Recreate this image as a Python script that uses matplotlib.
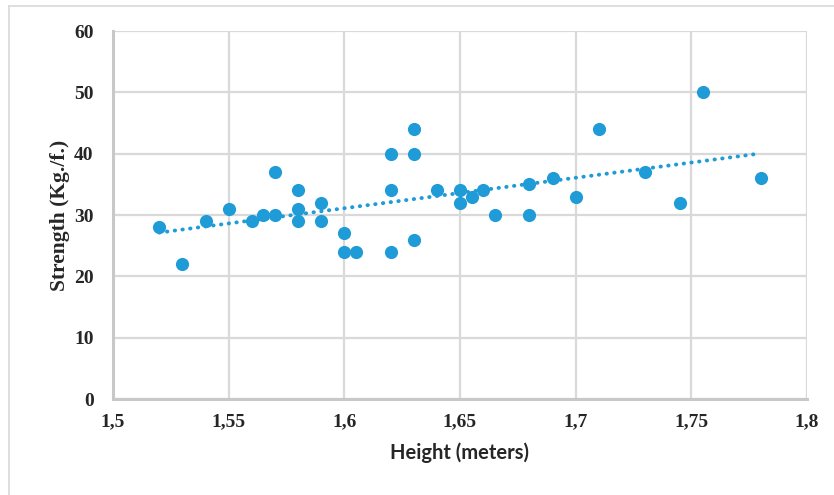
import numpy as np
import matplotlib
matplotlib.use("Agg")
import matplotlib.pyplot as plt
from matplotlib.lines import Line2D
from matplotlib.ticker import FuncFormatter

height = [1.52, 1.53, 1.54, 1.55, 1.56, 1.565, 1.57, 1.57, 1.58, 1.58, 1.58,
          1.59, 1.59, 1.60, 1.60, 1.605, 1.62, 1.62, 1.62, 1.63, 1.63, 1.63,
          1.64, 1.65, 1.65, 1.655, 1.66, 1.665, 1.68, 1.68, 1.69, 1.70, 1.71,
          1.73, 1.745, 1.755, 1.78]
strength = [28, 22, 29, 31, 29, 30, 37, 30, 34, 31, 29,
            32, 29, 27, 24, 24, 40, 34, 24, 44, 40, 26,
            34, 34, 32, 33, 34, 30, 35, 30, 36, 33, 44,
            37, 32, 50, 36]
x_ticks = [1.5, 1.55, 1.6, 1.65, 1.7, 1.75, 1.8]
y_ticks = [0, 10, 20, 30, 40, 50, 60]

blue = '#1F9BD7'
grid_c = '#D9D9D9'

fig = plt.figure(figsize=(8.34, 4.95), dpi=100)
ax = fig.add_axes([113/834, 1-399/495, (807-113)/834, (399-31)/495])

ax.set_xlim(1.5, 1.8)
ax.set_ylim(0, 60)
ax.set_xticks(x_ticks)
ax.set_yticks(y_ticks)
ax.grid(True, color=grid_c, linewidth=1.6)
ax.set_axisbelow(True)
for s in ['top', 'right']:
    ax.spines[s].set_visible(False)
for s in ['left', 'bottom']:
    ax.spines[s].set_color('#C8C8C8')
    ax.spines[s].set_linewidth(2.2)
ax.tick_params(axis='y', length=0, pad=14)
ax.tick_params(axis='x', length=0, pad=10)

fmt = FuncFormatter(lambda v, p: ('%g' % v).replace('.', ','))
ax.xaxis.set_major_formatter(fmt)
for lab in ax.get_xticklabels() + ax.get_yticklabels():
    lab.set_fontfamily('Liberation Serif')
    lab.set_fontweight('bold')
    lab.set_fontsize(14)
    lab.set_color('#262626')

ax.scatter(height, strength, s=90, color=blue, zorder=3, linewidths=0)

hx = np.array(height)
coef = np.polyfit(hx, np.array(strength), 1)
xs = np.array([min(height), max(height)])
ax.plot(xs, np.polyval(coef, xs), color=blue, linewidth=2.8,
        linestyle=(0, (0.1, 1.9)), dash_capstyle='round', zorder=2)

ax.set_xlabel('Height (meters)', fontfamily='Lato', fontweight='bold',
              fontsize=14.5, color='#262626', labelpad=9)
ax.set_ylabel('Strength (Kg./f.)', fontfamily='Liberation Serif',
              fontweight='bold', fontsize=15.5, color='#262626', labelpad=3)

fig.add_artist(Line2D([9/834, 1], [1-6/495, 1-6/495], color='#D9D9D9',
                      linewidth=1.2, transform=fig.transFigure))
fig.add_artist(Line2D([9/834, 9/834], [0, 1-6/495], color='#D9D9D9',
                      linewidth=1.2, transform=fig.transFigure))

fig.savefig('out.png', dpi=100)
